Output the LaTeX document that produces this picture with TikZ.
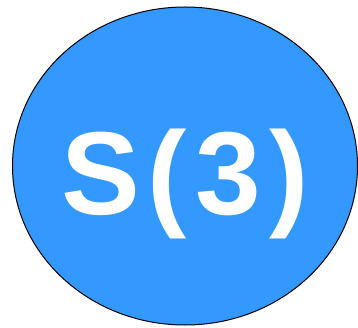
\documentclass[tikz,border=0pt]{standalone}
\usepackage{fontspec}
\setmainfont{Liberation Sans}
\usepackage{xcolor}
\usetikzlibrary{shapes.geometric}
\definecolor{bubbleblue}{RGB}{52,153,255}

\begin{document}
\begin{tikzpicture}[x=1pt,y=-1pt]
\useasboundingbox (0,0) rectangle (358,328);
\node at (185,166) (bubble)[ellipse, draw=black, line width=1pt, fill=bubbleblue,
  minimum width=345pt, minimum height=318pt, inner sep=0pt] {};
\node at (185,215) (name)[anchor=base, inner sep=0pt, text=white,
  font=\fontsize{118}{120}\selectfont\bfseries\addfontfeatures{LetterSpace=7}] {S(3)};
\end{tikzpicture}
\end{document}
